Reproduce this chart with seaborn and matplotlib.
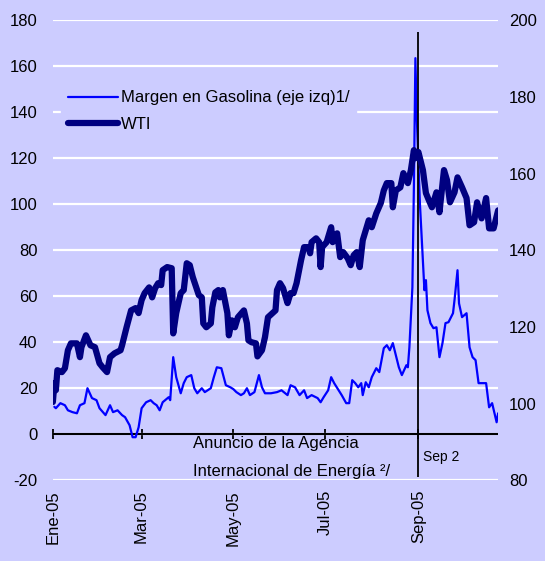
import pandas as pd
import matplotlib
matplotlib.use("Agg")
import matplotlib.pyplot as plt
import seaborn as sns

# days counted from 1 Jan 2005
gas_days = [1, 2, 5, 8, 10, 13, 16, 18, 21, 23, 26, 29, 31, 35, 38, 40, 43, 46, 48, 51,
            53, 55, 57, 59, 62, 65, 67, 69, 71, 73, 77, 78, 80, 82, 85, 87, 89, 92, 94, 96,
            99, 101, 105, 107, 109, 112, 115, 118, 120, 122, 125, 127, 129, 131, 134, 137,
            139, 141, 145, 149, 152, 156, 158, 161, 164, 167, 169, 172, 176, 178, 180, 183,
            185, 187, 190, 192, 195, 197, 199, 201, 203, 205, 206, 208, 210, 212, 215, 217,
            220, 222, 224, 226, 228, 230, 232, 235, 236, 237, 239, 240, 241, 242, 244, 246,
            247, 248, 249, 251, 253, 255, 257, 259, 261, 263, 266, 267, 269, 270, 272, 275,
            277, 279, 281, 283, 286, 288, 290, 292, 295, 296]
gas_vals = [11.9, 11.3, 13.5, 12.6, 10.4, 9.6, 9.1, 12.6, 13.5, 20.0, 15.7, 14.8, 11.3, 8.3,
            12.6, 9.6, 10.4, 8.3, 7.4, 3.9, -1.3, -1.3, 3.0, 11.3, 13.9, 14.8, 13.5, 12.6,
            10.4, 13.9, 16.1, 14.8, 33.5, 24.8, 17.8, 22.2, 24.8, 25.7, 20.0, 17.8, 20.0,
            18.3, 20.0, 24.8, 29.1, 28.7, 21.3, 20.4, 19.6, 18.3, 17.0, 17.8, 20.0, 17.0,
            18.3, 25.7, 20.4, 17.8, 17.8, 18.3, 19.1, 17.0, 21.3, 20.4, 17.0, 19.1, 15.7,
            17.0, 15.7, 13.9, 16.1, 19.1, 24.8, 22.2, 19.1, 17.0, 13.5, 13.5, 23.5, 22.2,
            20.4, 22.2, 17.0, 22.6, 20.4, 24.8, 28.7, 27.0, 37.4, 38.7, 36.5, 39.6, 34.3,
            29.1, 25.7, 30.0, 29.1, 37.8, 63.9, 107.4, 163.5, 136.5, 100.4, 75.7, 62.6,
            67.0, 53.9, 48.3, 46.1, 46.5, 33.5, 39.6, 48.3, 48.7, 52.6, 58.3, 71.3, 56.9,
            50.9, 52.6, 37.8, 33.5, 32.2, 22.2, 22.2, 22.2, 11.7, 13.5, 5.2, 9.1]

wti_days = [0, 1, 2, 3, 6, 8, 10, 12, 16, 18, 19, 22, 25, 28, 31, 33, 36, 38, 41, 45, 46,
            49, 52, 55, 57, 59, 61, 64, 66, 68, 70, 72, 73, 76, 79, 80, 82, 85, 87, 89, 91,
            93, 97, 99, 100, 102, 105, 106, 108, 110, 111, 113, 116, 117, 119, 121, 123,
            127, 129, 130, 132, 135, 136, 139, 141, 143, 146, 148, 149, 151, 153, 156, 158,
            160, 162, 165, 167, 170, 171, 172, 175, 177, 178, 179, 182, 185, 186, 189, 191,
            193, 196, 198, 200, 202, 204, 206, 208, 210, 212, 215, 218, 220, 222, 225, 226,
            228, 231, 233, 236, 238, 240, 241, 243, 246, 248, 250, 252, 255, 257, 260, 262,
            264, 267, 269, 272, 275, 277, 280, 282, 285, 288, 290, 293, 296]
wti_vals = [100.4, 105.3, 103.5, 108.7, 108.2, 109.2, 113.9, 115.7, 115.7, 112.1, 114.7,
            117.8, 115.2, 114.7, 110.5, 109.5, 108.2, 112.1, 113.1, 113.9, 115.2, 119.9,
            124.3, 124.9, 123.6, 127.0, 128.8, 130.3, 127.7, 130.1, 131.4, 130.9, 134.8,
            135.6, 135.3, 118.3, 123.6, 128.8, 129.6, 136.6, 136.1, 133.0, 128.3, 127.7,
            120.9, 119.9, 120.9, 125.1, 129.0, 129.6, 127.7, 129.6, 123.6, 117.8, 121.7,
            119.9, 122.5, 124.3, 120.9, 116.5, 116.0, 115.7, 112.3, 113.9, 117.3, 122.5,
            123.6, 124.3, 129.6, 131.4, 130.1, 126.2, 128.8, 128.8, 131.4, 137.4, 140.8,
            140.8, 139.2, 142.1, 143.1, 142.1, 135.6, 140.8, 142.1, 146.0, 142.1, 144.4,
            138.2, 139.5, 137.9, 136.1, 138.7, 139.5, 135.6, 142.6, 145.2, 147.8, 146.0,
            149.6, 152.3, 155.6, 157.5, 157.5, 151.2, 155.6, 156.4, 160.1, 157.5, 160.9,
            166.1, 164.0, 165.6, 160.9, 154.9, 153.0, 151.2, 155.1, 149.9, 160.9, 158.3,
            152.5, 155.1, 159.0, 156.4, 153.6, 146.5, 147.3, 152.5, 148.3, 153.6, 145.7,
            145.7, 150.4]

tick_dates = ["2005-01-01", "2005-03-01", "2005-05-01", "2005-07-01", "2005-09-01"]
tick_labels = ["Ene-05", "Mar-05", "May-05", "Jul-05", "Sep-05"]
left_ticks = list(range(-20, 181, 20))
right_ticks = list(range(80, 201, 20))

start = pd.Timestamp("2005-01-01")
gas = pd.DataFrame({"fecha": start + pd.to_timedelta(gas_days, unit="D"), "valor": gas_vals})
wti = pd.DataFrame({"fecha": start + pd.to_timedelta(wti_days, unit="D"), "valor": wti_vals})

BG = "#CCCCFF"
sns.set_style("white")
plt.rcParams["font.family"] = ["Liberation Sans", "DejaVu Sans"]
plt.rcParams["font.size"] = 12
plt.rcParams["text.color"] = "black"
plt.rcParams["xtick.color"] = "black"
plt.rcParams["ytick.color"] = "black"
plt.rcParams["axes.unicode_minus"] = False

fig = plt.figure(figsize=(5.45, 5.61), dpi=100, facecolor=BG)
ax = fig.add_axes([0.097, 0.144, 0.817, 0.82])
ax.set_facecolor(BG)

sns.lineplot(data=gas, x="fecha", y="valor", ax=ax, color="#0000FF", linewidth=1.6,
             label="Margen en Gasolina (eje izq)1/", legend=False)
ax.set_ylim(-20, 180)
ax.set_yticks(left_ticks)
ax.grid(axis="y", color="white", linewidth=1.6)
ax.set_axisbelow(True)
ax.axhline(0, color="black", linewidth=1.5, zorder=1.5)

ax2 = ax.twinx()
sns.lineplot(data=wti, x="fecha", y="valor", ax=ax2, color="#000080", linewidth=4.5,
             label="WTI", legend=False)
ax2.set_ylim(80, 200)
ax2.set_yticks(right_ticks)

xmin, xmax = pd.Timestamp("2005-01-01"), pd.Timestamp("2005-10-24")
ax.set_xlim(xmin, xmax)
ax.set_xticks(pd.to_datetime(tick_dates))
ax.set_xticklabels(tick_labels, rotation=90)
ax.set_xlabel("")
ax.set_ylabel("")
ax2.set_ylabel("")

for a in (ax, ax2):
    for s in a.spines.values():
        s.set_visible(False)
ax.tick_params(axis="x", length=0, pad=7, labelsize=12, labelcolor="black")
ax.tick_params(axis="y", length=0, pad=11, labelsize=12, labelcolor="black")
ax2.tick_params(axis="y", length=0, pad=8, labelsize=12, labelcolor="black")

# month ticks sitting on the zero line
zero = ax.secondary_xaxis(0.1)
zero.set_xticks(pd.to_datetime(tick_dates))
zero.tick_params(direction="inout", length=7, width=1.3, color="black",
                 labelbottom=False, labeltop=False)
for s in zero.spines.values():
    s.set_visible(False)

# announcement marker
ann = pd.Timestamp("2005-09-01")
ax.vlines(ann, -18.7, 175, color="black", linewidth=1.3, zorder=5)
ax.text(pd.Timestamp("2005-04-04"), -4, "Anuncio de la Agencia", ha="left", va="center",
        fontsize=12, color="black")
ax.text(pd.Timestamp("2005-04-04"), -16, "Internacional de Energía ²/", ha="left",
        va="center", fontsize=12, color="black")
ax.text(pd.Timestamp("2005-09-04"), -10, "Sep 2", ha="left", va="center", fontsize=10,
        color="black")

handles = ax.get_lines()[:1] + ax2.get_lines()[:1]
leg = ax2.legend(handles, [h.get_label() for h in handles], loc="upper left",
                 bbox_to_anchor=(0.0, 0.88), frameon=True, facecolor=BG, edgecolor=BG,
                 framealpha=1, fancybox=False, handlelength=3.0, handletextpad=0.2,
                 labelspacing=0.7, fontsize=12, labelcolor="black")

fig.savefig("out.png", dpi=100, facecolor=BG)
